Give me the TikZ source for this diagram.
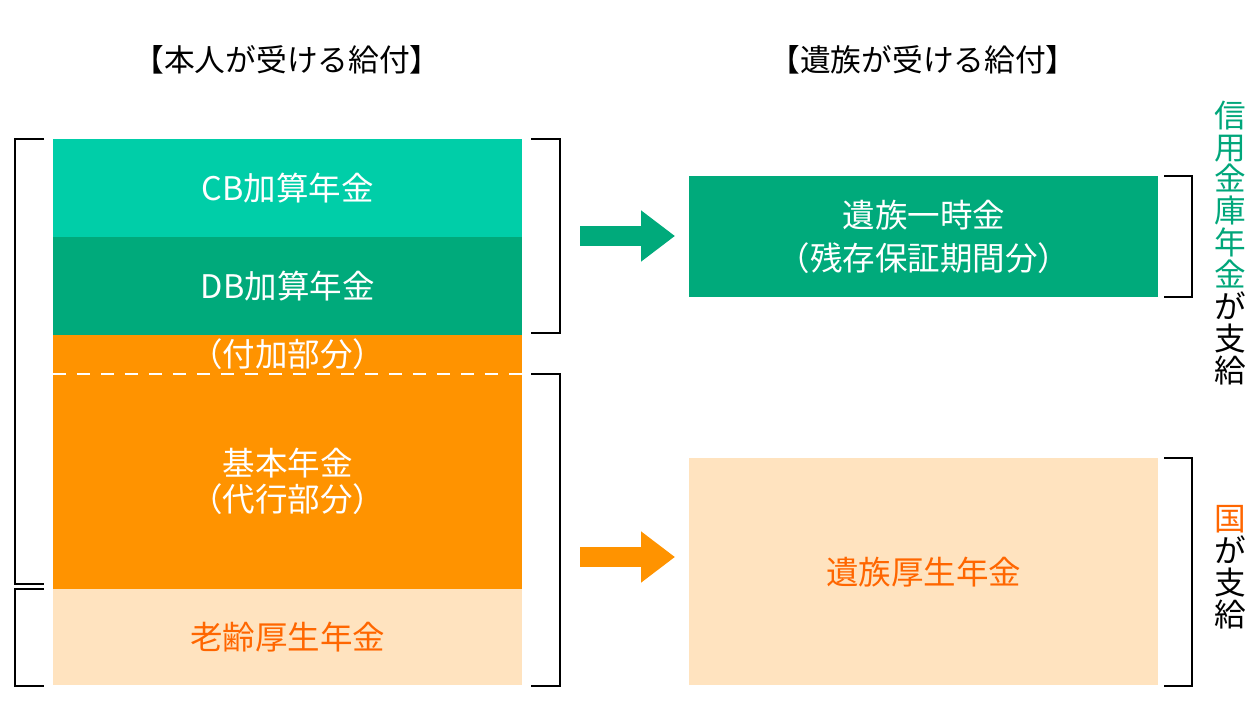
\documentclass[tikz,border=0pt]{standalone}
\usepackage{fontspec}
\setmainfont{Noto Sans CJK JP}
\usetikzlibrary{arrows.meta}

\definecolor{cbgreen}{RGB}{0,206,168}
\definecolor{dbgreen}{RGB}{0,170,123}
\definecolor{kinorange}{RGB}{255,147,0}
\definecolor{kinlight}{RGB}{255,227,191}
\definecolor{txtorange}{RGB}{255,102,0}
\definecolor{txtgreen}{RGB}{0,166,122}

\newcommand{\grtxt}[1]{\textcolor{txtgreen}{#1}}
\newcommand{\ortxt}[1]{\textcolor{txtorange}{#1}}

\tikzset{
  box/.style={anchor=north west, minimum width=9.38cm, inner sep=0pt,
    align=center, font=\fontsize{18.5}{22}\selectfont},
  brack/.style={line width=1.1pt},
  bigarrow/.style={line width=0.4cm, -{Triangle[length=0.68cm,width=0.98cm]}},
  title/.style={font=\fontsize{17.5}{20}\selectfont},
  vtext/.style={align=center, inner sep=0pt, font=\fontsize{18}{18.2}\selectfont}
}

\begin{document}
\begin{tikzpicture}[x=0.02cm,y=-0.02cm]
                    \useasboundingbox (0,0) rectangle (1260,726);

                    % titles
                    \node[title] (honnin) at (287,60) {【本人が受ける給付】};
                    \node[title] (izokut) at (923,60) {【遺族が受ける給付】};

                    % left column
                    \node[box, fill=cbgreen, minimum height=1.96cm, text=white] (cb) at (53,139) {CB加算年金};
                    \node[box, fill=dbgreen, minimum height=1.96cm, text=white] (db) at (53,237) {DB加算年金};
                    \node[box, fill=kinorange, minimum height=0.76cm, text=white] (fuka) at (53,335) {（付加部分）};
                    \node[box, fill=kinorange, minimum height=4.32cm, text=white,
                      font=\fontsize{18.5}{20.5}\selectfont] (kihon) at (53,373) {基本年金\\（代行部分）};
                    \node[box, fill=kinlight, minimum height=1.92cm, text=txtorange] (rourei) at (53,589) {老齢厚生年金};
                    \draw[white, line width=1.3pt, dash pattern=on 0.26cm off 0.22cm]
                      (fuka.south west) -- (fuka.south east);

                    % right column
                    \node[box, fill=dbgreen, minimum height=2.42cm, text=white,
                      font=\fontsize{18.5}{24}\selectfont] (ichiji) at (689,176) {遺族一時金\\（残存保証期間分）};
                    \node[box, fill=kinlight, minimum height=4.54cm, text=txtorange] (izoku) at (689,458) {遺族厚生年金};

                    % brackets
                    \draw[brack] (44,139) -- (15,139) -- (15,584) -- (44,584);
                    \draw[brack] (44,589) -- (15,589) -- (15,686) -- (44,686);
                    \draw[brack] (531,139) -- (560,139) -- (560,333) -- (531,333);
                    \draw[brack] (531,374) -- (560,374) -- (560,686) -- (531,686);
                    \draw[brack] (1164,176) -- (1192,176) -- (1192,297) -- (1164,297);
                    \draw[brack] (1164,458) -- (1192,458) -- (1192,686) -- (1164,686);

                    % arrows
                    \coordinate (ga) at (580,236);
                    \coordinate (oa) at (580,557);
                    \draw[bigarrow, dbgreen, shorten >=0.28cm] (ga) -- (ga -| ichiji.west);
                    \draw[bigarrow, kinorange, shorten >=0.28cm] (oa) -- (oa -| izoku.west);

                    % who pays
                    \node[vtext] (shinkin) at (1230,243) {\grtxt{信}\\\grtxt{用}\\\grtxt{金}\\\grtxt{庫}\\\grtxt{年}\\\grtxt{金}\\が\\支\\給};
                    \node[vtext] (kuni) at (1230,567) {\ortxt{国}\\が\\支\\給};
                \end{tikzpicture}
\end{document}
